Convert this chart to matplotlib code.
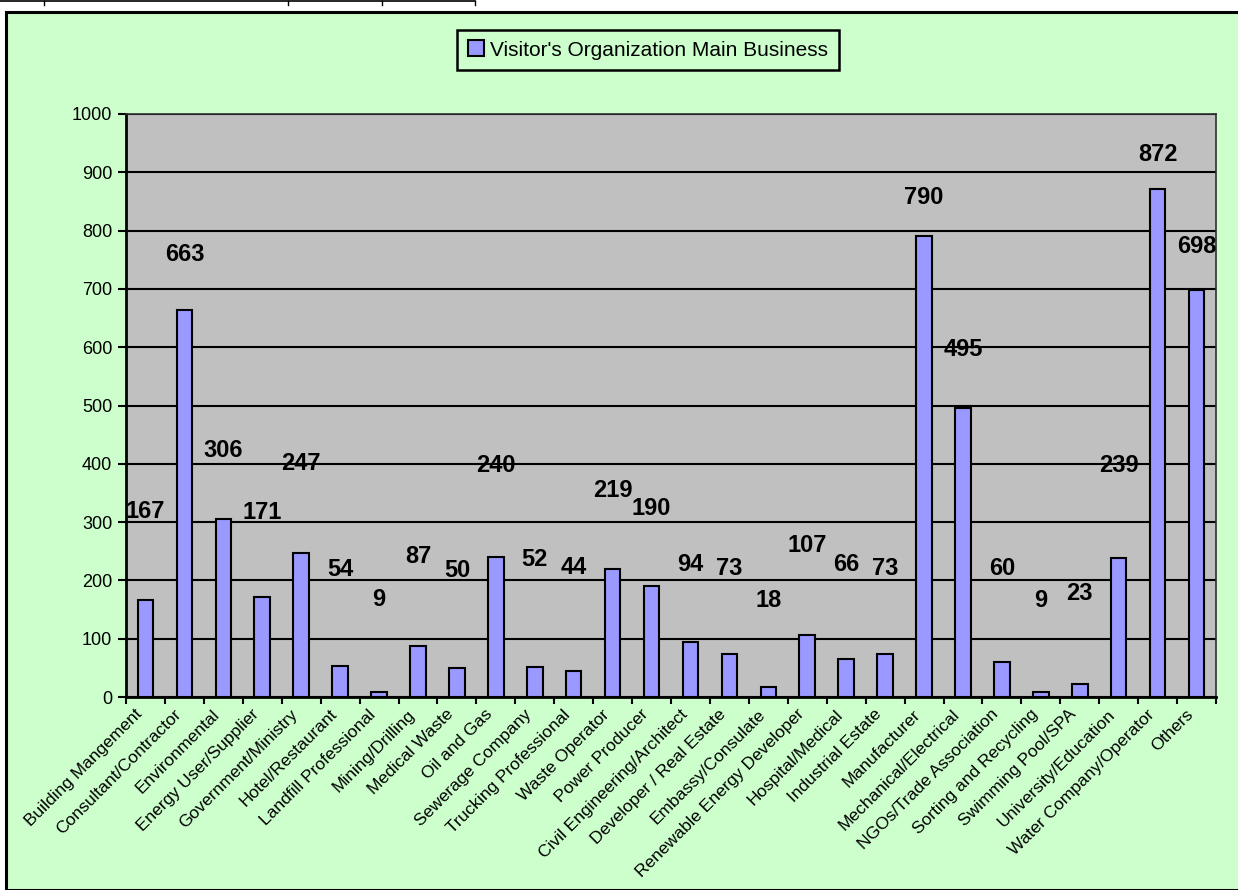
import numpy as np
import matplotlib
matplotlib.use("Agg")
import matplotlib.pyplot as plt
import matplotlib.patches as patches
import matplotlib.transforms as mtransforms
from matplotlib.lines import Line2D

plt.rcParams['font.family'] = ['Liberation Sans', 'DejaVu Sans']

# data
categories = [
    "Building Mangement", "Consultant/Contractor", "Environmental",
    "Energy User/Supplier", "Government/Ministry", "Hotel/Restaurant",
    "Landfill Professional", "Mining/Drilling", "Medical Waste", "Oil and Gas",
    "Sewerage Company", "Trucking Professional", "Waste Operator",
    "Power Producer", "Civil Engineering/Architect", "Developer / Real Estate",
    "Embassy/Consulate", "Renewable Energy Developer", "Hospital/Medical",
    "Industrial Estate", "Manufacturer", "Mechanical/Electrical",
    "NGOs/Trade Association", "Sorting and Recycling", "Swimming Pool/SPA",
    "University/Education", "Water Company/Operator", "Others",
]
visitors = [167, 663, 306, 171, 247, 54, 9, 87, 50, 240, 52, 44, 219, 190,
            94, 73, 18, 107, 66, 73, 790, 495, 60, 9, 23, 239, 872, 698]
series_name = "Visitor's Organization Main Business"
y_ticks = [0, 100, 200, 300, 400, 500, 600, 700, 800, 900, 1000]

# label lift above each bar (pixels), the labels were placed by hand in the original
label_lift = [88, 56, 68, 85, 89, 96, 92, 90, 97, 92, 107, 104, 79, 78,
              78, 86, 86, 89, 94, 86, 39, 59, 94, 91, 90, 92, 34, 44]

panel_green = "#CCFFCC"
bar_color = "#9999FF"
plot_grey = "#C0C0C0"

W, H = 1238, 890
fig = plt.figure(figsize=(W / 100, H / 100), dpi=100)
fig.patch.set_facecolor("white")

# green chart panel with black border (left and top visible)
panel = patches.Rectangle((6 / W, 0), 1 - 6 / W + 0.01, 1 - 12 / H,
                          transform=fig.transFigure, facecolor=panel_green,
                          edgecolor="black", linewidth=2.2, zorder=0)
fig.add_artist(panel)

# bits of table border above the chart
fig.add_artist(Line2D([0, 475 / W], [1 - 1 / H, 1 - 1 / H], color="black",
                      linewidth=1.2, transform=fig.transFigure))
for xp in [44, 288, 382, 475]:
    fig.add_artist(Line2D([xp / W, xp / W], [1 - 1 / H, 1 - 5 / H], color="black",
                          linewidth=1.0, transform=fig.transFigure))

ax = fig.add_axes([126 / W, 1 - 697 / H, (1216 - 126) / W, (697 - 114) / H])
ax.set_facecolor(plot_grey)

x = np.arange(len(categories))
bars = ax.bar(x, visitors, width=0.4, color=bar_color, edgecolor="black",
              linewidth=1.5, zorder=3, label=series_name)

ax.set_xlim(-0.5, len(categories) - 0.5)
ax.set_ylim(0, 1000)
ax.set_yticks(y_ticks)
ax.yaxis.grid(True, color="black", linewidth=1.5, zorder=1)
ax.set_axisbelow(True)
ax.tick_params(axis="y", direction="out", length=6, width=1.5, labelsize=13,
               pad=4)

# ticks between categories, labels at the centres
ax.set_xticks(np.arange(len(categories) + 1) - 0.5)
ax.set_xticklabels([])
ax.tick_params(axis="x", which="major", direction="out", length=5, width=1.5)
ax.set_xticks(x, minor=True)
ax.set_xticklabels(categories, minor=True, rotation=45, ha="right", va="top",
                   rotation_mode="anchor", fontsize=12.5)
ax.tick_params(axis="x", which="minor", length=0, pad=7)
shift = mtransforms.ScaledTranslation(-11 / 100, 0, fig.dpi_scale_trans)
for lab in ax.get_xticklabels(minor=True):
    lab.set_transform(lab.get_transform() + shift)

for side in ["left", "bottom"]:
    ax.spines[side].set_linewidth(2)
ax.spines["top"].set_linewidth(1.2)
ax.spines["right"].set_linewidth(1.2)
ax.spines["top"].set_color("#303030")
ax.spines["right"].set_color("#303030")

for i, v in enumerate(visitors):
    ax.annotate(str(v), (x[i], v), xytext=(0, label_lift[i]),
                textcoords="offset pixels", ha="center", va="center",
                fontsize=17, fontweight="bold", zorder=5)

leg = fig.legend(handles=[bars], loc="center", bbox_to_anchor=(648 / W, 1 - 50 / H),
                 fancybox=False, frameon=True, fontsize=15, handlelength=0.8,
                 handleheight=0.8, handletextpad=0.3, borderpad=0.5,
                 facecolor=panel_green, edgecolor="black", framealpha=1)
leg.get_frame().set_linewidth(1.8)

fig.savefig("out.png", dpi=100, facecolor=fig.get_facecolor())
